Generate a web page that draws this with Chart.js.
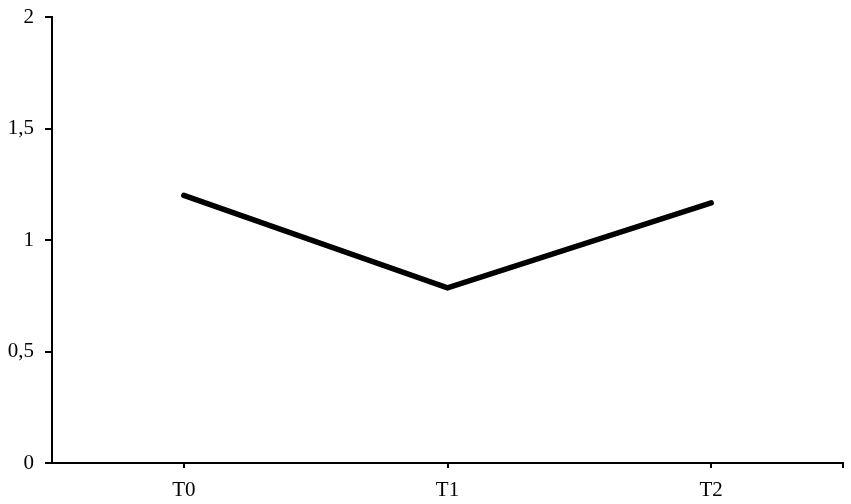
<!DOCTYPE html>
<html>
<head>
<meta charset="utf-8">
<script src="https://cdn.jsdelivr.net/npm/chart.js@4.4.1/dist/chart.umd.min.js"></script>
<style>
html,body{margin:0;padding:0;background:#fff;}
#wrap{width:851px;height:504px;position:relative;}
</style>
</head>
<body>
<div id="wrap"><canvas id="c" width="851" height="504"></canvas></div>
<script>
const categories = ["T0", "T1", "T2"];
const values = [1.20, 0.785, 1.167];
const yTicks = [0, 0.5, 1, 1.5, 2];

const endTick = {
  id: 'endTick',
  afterDraw(chart) {
    const ctx = chart.ctx, a = chart.chartArea;
    const y = chart.scales.x.top;
    ctx.save();
    ctx.strokeStyle = '#000';
    ctx.lineWidth = 2;
    ctx.beginPath();
    ctx.moveTo(a.right, y);
    ctx.lineTo(a.right, y + 5);
    ctx.stroke();
    ctx.restore();
  }
};

new Chart(document.getElementById('c'), {
  type: 'line',
  data: {
    labels: categories,
    datasets: [{
      data: values,
      borderColor: '#000',
      borderWidth: 5.5,
      borderCapStyle: 'round',
      pointRadius: 0,
      tension: 0,
      fill: false
    }]
  },
  options: {
    responsive: false,
    animation: false,
    devicePixelRatio: 1,
    layout: { padding: { top: 0, right: 8, left: 0, bottom: 0 } },
    plugins: { legend: { display: false }, tooltip: { enabled: false } },
    scales: {
      x: {
        offset: true,
        grid: { drawOnChartArea: false, offset: false, color: '#000', lineWidth: 2, tickLength: 5 },
        border: { color: '#000', width: 2 },
        ticks: { color: '#000', padding: 10, font: { family: 'Liberation Serif', size: 21 } },
        afterFit(s) { s.height = 41; }
      },
      y: {
        min: 0, max: 2,
        afterBuildTicks(s) { s.ticks = yTicks.map(v => ({ value: v })); },
        grid: { drawOnChartArea: false, color: '#000', lineWidth: 2, tickLength: 7 },
        border: { color: '#000', width: 2 },
        ticks: {
          color: '#000', padding: 11,
          font: { family: 'Liberation Serif', size: 21 },
          callback: v => String(v).replace('.', ',')
        },
        afterFit(s) { s.width = 52; s.paddingTop = 17; }
      }
    }
  },
  plugins: [endTick]
});
</script>
</body>
</html>
